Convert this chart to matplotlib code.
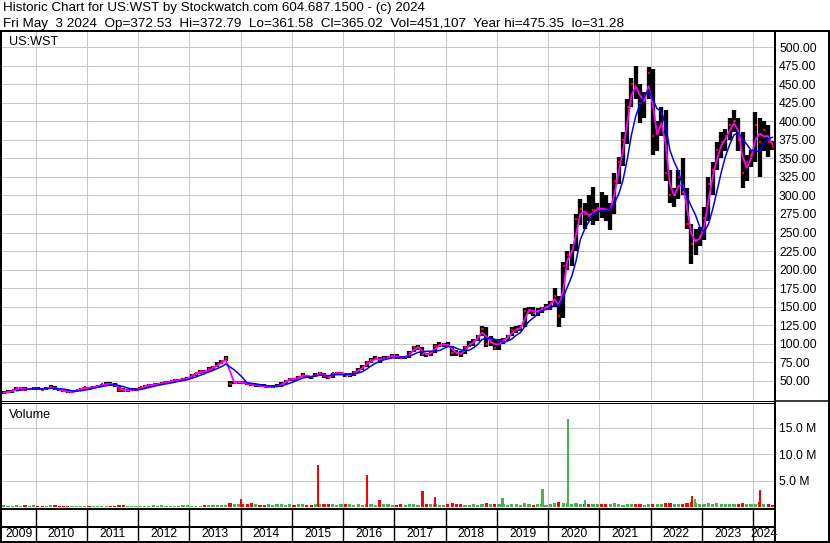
import numpy as np
import pandas as pd
import matplotlib
matplotlib.use('Agg')
import matplotlib.pyplot as plt

plt.rcParams['font.family'] = ['Liberation Sans', 'DejaVu Sans']

# monthly bars, first bar is May 2009, last is May 2024
start_year, start_month = 2009, 5

highs = [
    36, 37, 38, 41, 42, 41, 40, 41,                              # 2009
    41, 40, 41, 44, 43, 40, 38, 38, 36, 38, 40, 42,              # 2010
    41, 43, 44, 46, 48, 48, 47, 43, 40, 39, 40, 40,              # 2011
    42, 44, 45, 46, 47, 48, 50, 50, 52, 53, 54, 55,              # 2012
    59, 61, 64, 65, 68, 70, 75, 78, 83, 49, 50, 50,              # 2013
    50, 48, 47, 46, 45, 45, 44, 44, 45, 48, 51, 54,              # 2014
    54, 56, 60, 58, 57, 60, 62, 61, 58, 61, 62, 62,              # 2015
    61, 60, 63, 67, 71, 76, 80, 84, 82, 84, 84, 86,              # 2016
    86, 84, 84, 90, 97, 98, 96, 88, 90, 100, 102, 101,           # 2017
    102, 97, 92, 90, 97, 103, 106, 112, 124, 122, 110, 106,      # 2018
    106, 108, 112, 122, 124, 125, 148, 150, 150, 148, 150, 154,  # 2019
    158, 175, 165, 210, 225, 235, 275, 295, 290, 300, 311, 290,  # 2020
    305, 300, 290, 330, 352, 385, 430, 458, 475, 450, 440, 473,  # 2021
    470, 400, 420, 415, 335, 310, 335, 350, 310, 262, 255, 258,  # 2022
    285, 325, 345, 372, 385, 390, 405, 415, 405, 385, 355, 362,  # 2023
    412, 405, 400, 395, 373,                                     # 2024
]
lows = [
    32, 33, 34, 37, 38, 37, 37, 38,
    37, 37, 38, 40, 38, 36, 35, 34, 34, 35, 37, 38,
    38, 39, 41, 42, 44, 43, 42, 35, 35, 35, 36, 36,
    38, 40, 42, 43, 44, 44, 46, 47, 48, 49, 50, 51,
    54, 57, 59, 60, 62, 64, 68, 72, 76, 41, 46, 46,
    46, 44, 43, 42, 41, 41, 40, 40, 41, 42, 46, 49,
    49, 51, 55, 54, 53, 55, 57, 54, 52, 54, 58, 58,
    55, 55, 57, 61, 65, 69, 74, 78, 74, 78, 79, 80,
    79, 79, 79, 81, 89, 92, 84, 82, 84, 88, 95, 96,
    95, 84, 84, 82, 86, 95, 97, 103, 110, 95, 97, 91,
    92, 100, 104, 110, 114, 117, 122, 140, 138, 138, 142, 145,
    145, 150, 122, 135, 200, 205, 225, 260, 255, 265, 260, 265,
    270, 265, 253, 275, 315, 340, 370, 420, 430, 398, 405, 430,
    355, 360, 380, 320, 290, 285, 295, 300, 255, 208, 220, 232,
    240, 265, 300, 335, 350, 360, 375, 385, 360, 310, 320, 338,
    345, 325, 360, 352, 361,
]
closes = [
    34, 35, 37, 40, 40, 38, 39, 40,
    39, 38, 40, 42, 39, 37, 36, 35, 35, 37, 39, 41,
    40, 42, 43, 45, 46, 45, 44, 38, 37, 37, 38, 38,
    41, 43, 44, 45, 45, 47, 48, 49, 51, 51, 52, 54,
    58, 60, 63, 62, 66, 68, 73, 76, 80, 46, 48, 48,
    47, 46, 44, 44, 43, 42, 42, 42, 43, 46, 50, 53,
    52, 55, 58, 56, 55, 58, 60, 57, 54, 60, 60, 60,
    57, 58, 62, 65, 69, 75, 78, 80, 78, 80, 82, 84,
    82, 81, 82, 88, 95, 95, 86, 85, 88, 97, 98, 99,
    98, 88, 87, 86, 95, 100, 104, 110, 120, 100, 105, 94,
    104, 105, 110, 118, 120, 122, 144, 146, 142, 144, 148, 150,
    155, 165, 138, 205, 220, 225, 268, 282, 275, 272, 280, 283,
    282, 280, 282, 320, 345, 375, 420, 450, 445, 425, 430, 465,
    380, 385, 410, 330, 300, 300, 325, 305, 262, 235, 240, 245,
    270, 315, 335, 362, 372, 380, 395, 400, 375, 330, 345, 355,
    395, 372, 388, 372, 365,
]
# typical volume per month, millions
volumes = [
    0.35, 0.3, 0.3, 0.35, 0.3, 0.4, 0.3, 0.35,
    0.3, 0.25, 0.3, 0.35, 0.4, 0.3, 0.3, 0.25, 0.3, 0.3, 0.3, 0.3,
    0.25, 0.3, 0.3, 0.3, 0.3, 0.3, 0.3, 0.45, 0.35, 0.3, 0.25, 0.3,
    0.3, 0.3, 0.3, 0.35, 0.3, 0.4, 0.3, 0.3, 0.3, 0.3, 0.35, 0.35,
    0.3, 0.3, 0.3, 0.4, 0.35, 0.4, 0.4, 0.35, 0.45, 0.8, 0.6, 0.55,
    0.6, 0.55, 0.7, 0.55, 0.5, 0.5, 0.6, 0.5, 0.55, 0.65, 0.5, 0.55,
    0.5, 0.6, 0.6, 0.5, 0.5, 0.55, 0.65, 0.6, 0.6, 0.55, 0.5, 0.55,
    0.6, 0.55, 0.5, 0.6, 0.5, 0.6, 0.55, 0.5, 0.6, 0.55, 0.55, 0.5,
    0.5, 0.55, 0.5, 0.6, 0.55, 0.5, 0.7, 0.65, 0.55, 0.6, 0.5, 0.5,
    0.55, 0.7, 0.55, 0.6, 0.5, 0.5, 0.6, 0.5, 0.55, 0.7, 0.55, 0.6,
    0.55, 0.6, 0.5, 0.65, 0.55, 0.5, 0.7, 0.55, 0.5, 0.55, 0.6, 0.5,
    0.6, 0.75, 0.9, 0.8, 0.7, 0.65, 0.7, 0.6, 0.6, 0.65, 0.6, 0.55,
    0.6, 0.55, 0.6, 0.7, 0.55, 0.5, 0.6, 0.55, 0.6, 0.55, 0.5, 0.55,
    0.6, 0.65, 0.55, 0.75, 0.7, 0.6, 0.55, 0.6, 0.7, 0.9, 0.7, 0.6,
    0.6, 0.75, 0.65, 0.7, 0.6, 0.55, 0.65, 0.6, 0.55, 0.8, 0.6, 0.55,
    0.6, 0.9, 0.6, 0.6, 0.5,
]
# single heavy days
spike_dates = [2014.00, 2015.51, 2016.46, 2016.71, 2017.55, 2017.79, 2019.11,
               2019.89, 2020.38, 2020.72, 2022.80, 2022.86, 2024.13]
spike_vols = [1.6, 8.0, 6.1, 1.4, 3.0, 2.0, 1.8, 3.4, 16.6, 1.4, 2.2, 1.6, 3.2]
spike_up = [False, False, False, False, False, False, True, True, True, True,
            False, True, False]

price_ticks = list(range(50, 501, 25))
vol_ticks = [5, 10, 15]
years = list(range(2009, 2025))

header1 = "Historic Chart for US:WST by Stockwatch.com 604.687.1500 - (c) 2024"
header2 = ("Fri May  3 2024  Op=372.53  Hi=372.79  Lo=361.58  Cl=365.02  "
           "Vol=451,107  Year hi=475.35  lo=31.28")

W, H = 830, 543
RED, GREEN, GRID = '#ff0000', '#4caf50', '#c8c8c8'


def box(x0, y0, x1, y1):
    return [x0 / W, 1 - y1 / H, (x1 - x0) / W, (y1 - y0) / H]


# x axis in years: 2010 at px 35.7, 51.25 px per year
def yr(px):
    return 2010 + (px - 35.7) / 51.25


XL = (yr(2), yr(774))

df = pd.DataFrame({'h': highs, 'l': lows, 'c': closes, 'v': volumes})
idx = np.arange(len(df)) + start_month - 1
df['x'] = start_year + (idx + 0.5) / 12
df['fast'] = df['c'].rolling(2, min_periods=1).mean()
df['slow'] = df['c'].rolling(5, min_periods=4).mean()
df['up'] = df['c'].diff().fillna(0) >= 0

fig = plt.figure(figsize=(W / 100, H / 100), dpi=100, facecolor='white')

ax_p = fig.add_axes(box(2, 31, 774, 400))
ax_v = fig.add_axes(box(2, 403, 774, 508.5))
ax_d = fig.add_axes(box(2, 509, 774, 541))

for ax in (ax_p, ax_v, ax_d):
    ax.set_xlim(*XL)
    for s in ax.spines.values():
        s.set_visible(False)
    ax.set_axisbelow(True)

# price panel
ax_p.set_ylim(24.0, 521.9)
ax_p.set_xticks(years[1:])
ax_p.set_yticks(price_ticks)
ax_p.set_yticklabels(['%.2f' % t for t in price_ticks])
ax_p.yaxis.tick_right()
ax_p.tick_params(axis='y', length=0, pad=3.6, labelsize=8.7)
ax_p.tick_params(axis='x', length=0, labelbottom=False)
ax_p.grid(True, color=GRID, lw=0.75)

ax_p.vlines(df['x'], df['l'], df['h'], color='black', lw=3.1)
ax_p.hlines(df['c'], df['x'] - 0.012, df['x'] + 0.03, color=RED, lw=1.6)
ax_p.plot(df['x'], df['fast'], color='#ff00ff', lw=1.3)
ax_p.plot(df['x'], df['slow'], color='#0000ff', lw=1.1)

# volume panel
ax_v.set_ylim(-0.25, 19.7)
ax_v.set_xticks(years[1:])
ax_v.set_yticks(vol_ticks)
ax_v.set_yticklabels(['%.1f M' % t for t in vol_ticks])
ax_v.yaxis.tick_right()
ax_v.tick_params(axis='y', length=0, pad=3.6, labelsize=8.7)
ax_v.tick_params(axis='x', length=0, labelbottom=False)
ax_v.grid(True, color=GRID, lw=0.75)
ax_v.bar(df['x'], df['v'], width=0.75 / 12,
         color=[GREEN if u else RED for u in df['up']])
ax_v.bar(spike_dates, spike_vols, width=0.045,
         color=[GREEN if u else RED for u in spike_up])

# date strip
ax_d.set_ylim(0, 1)
ax_d.set_xticks([])
ax_d.set_yticks([])
ax_d.vlines(years[1:], 0, 1, color='black', lw=1.0)
for y in years:
    a, b = max(y, XL[0]), min(y + 1, XL[1])
    ax_d.text((a + b) / 2, 0.22, str(y), ha='center', va='center', fontsize=8.7)

# frame and texts in pixel coordinates
ov = fig.add_axes([0, 0, 1, 1], zorder=10)
ov.set_xlim(0, W)
ov.set_ylim(H, 0)
ov.axis('off')
ov.patch.set_alpha(0)
frame = [
    ((0, W), (30.5, 30.5), 2), ((1, 1), (30, 542), 2),
    ((774.5, 774.5), (30, 542), 2), ((828.5, 828.5), (30, 542), 2),
    ((0, W), (541.5, 541.5), 2), ((0, 774), (400.5, 400.5), 1),
    ((0, 774), (402.5, 402.5), 1), ((774, W), (401, 401), 1.5),
    ((0, 774), (508.5, 508.5), 2), ((0, 774), (526.5, 526.5), 2),
]
for xs, ys, w in frame:
    ov.plot(xs, ys, color='black', lw=w * 0.72, solid_capstyle='butt')

ov.text(3, 11, header1, fontsize=9.6, va='baseline')
ov.text(3, 27, header2, fontsize=9.7, va='baseline')
ov.text(9, 45, 'US:WST', fontsize=9.1, va='baseline')
ov.text(9, 418, 'Volume', fontsize=9.1, va='baseline')

fig.savefig('out.png', dpi=100, facecolor='white')
